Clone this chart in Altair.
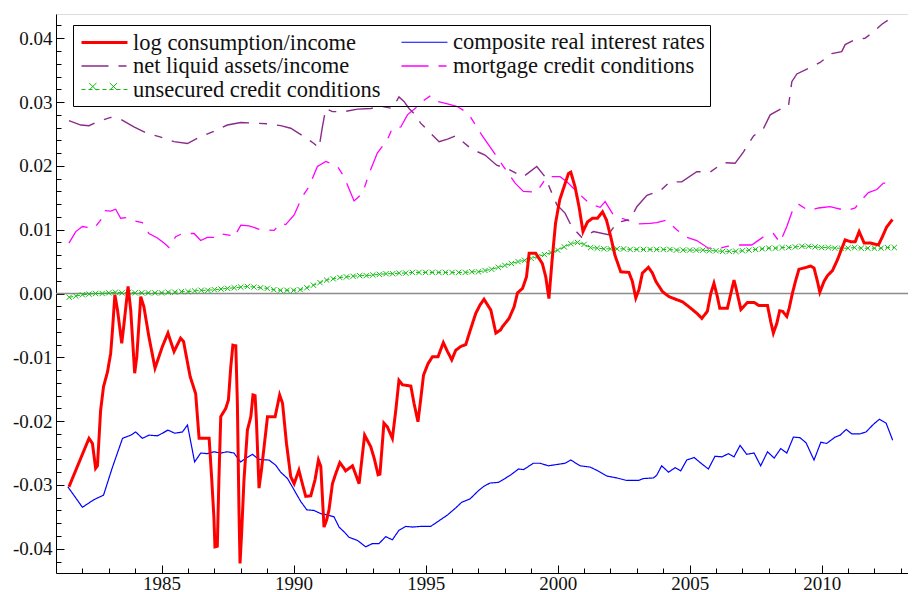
import altair as alt
import pandas as pd

# ---------------- data ----------------
# legend order: column 1 = first three, column 2 = last two
names = ["log consumption/income", "net liquid assets/income",
         "unsecured credit conditions", "composite real interest rates",
         "mortgage credit conditions"]
colors = ["#ff0000", "#8a2a8a", "#11bb11", "#0000ff", "#ff00ff"]
dashes = [[1, 0], [27, 10, 8, 10], [4, 3], [1, 0], [27, 10, 8, 10]]
widths = [3.0, 1.4, 1.0, 1.2, 1.3]

red = [(1981.49,-0.0303),(1982.25,-0.0227),(1982.38,-0.0235),(1982.50,-0.0274),(1982.57,-0.0270),
 (1982.69,-0.0183),(1982.80,-0.0146),(1982.95,-0.0123),(1983.07,-0.0094),(1983.14,-0.0057),
 (1983.23,-0.0002),(1983.33,-0.0026),(1983.49,-0.0078),(1983.55,-0.0057),(1983.73,0.0011),
 (1983.83,-0.0026),(1983.98,-0.0125),(1984.06,-0.0099),(1984.21,-0.0005),(1984.33,-0.0021),
 (1984.52,-0.0068),(1984.75,-0.0117),(1985.03,-0.0083),(1985.24,-0.0062),(1985.47,-0.0091),
 (1985.72,-0.0070),(1985.83,-0.0075),(1986.08,-0.0130),(1986.29,-0.0157),(1986.42,-0.0227),
 (1986.80,-0.0227),(1986.90,-0.0292),(1986.98,-0.0350),(1987.02,-0.0397),(1987.11,-0.0396),
 (1987.17,-0.0292),(1987.24,-0.0193),(1987.43,-0.0180),(1987.53,-0.0167),(1987.62,-0.0115),
 (1987.70,-0.0081),(1987.81,-0.0082),(1987.87,-0.0172),(1987.93,-0.0339),(1987.97,-0.0423),
 (1988.03,-0.0376),(1988.12,-0.0292),(1988.25,-0.0214),(1988.38,-0.0193),(1988.46,-0.0159),
 (1988.54,-0.0160),(1988.59,-0.0198),(1988.69,-0.0305),(1988.78,-0.0277),(1988.94,-0.0219),
 (1989.01,-0.0193),(1989.30,-0.0193),(1989.47,-0.0159),(1989.58,-0.0172),(1989.73,-0.0235),
 (1989.89,-0.0287),(1990.02,-0.0298),(1990.20,-0.0277),(1990.33,-0.0298),(1990.46,-0.0318),
 (1990.65,-0.0317),(1990.81,-0.0292),(1990.94,-0.0261),(1991.03,-0.0271),(1991.15,-0.0366),
 (1991.25,-0.0355),(1991.34,-0.0339),(1991.47,-0.0298),(1991.59,-0.0283),(1991.75,-0.0265),
 (1991.91,-0.0274),(1991.97,-0.0278),(1992.23,-0.0270),(1992.48,-0.0298),(1992.69,-0.0222),
 (1992.92,-0.0240),(1993.05,-0.0258),(1993.20,-0.0284),(1993.27,-0.0283),(1993.42,-0.0203),
 (1993.55,-0.0209),(1993.74,-0.0227),(1993.87,-0.0183),(1993.99,-0.0136),(1994.12,-0.0143),
 (1994.44,-0.0145),(1994.56,-0.0172),(1994.71,-0.0201),(1994.81,-0.0167),(1994.92,-0.0128),
 (1995.09,-0.0110),(1995.26,-0.0099),(1995.47,-0.0099),(1995.67,-0.0077),(1995.83,-0.0091),
 (1995.99,-0.0104),(1996.14,-0.0089),(1996.33,-0.0083),(1996.52,-0.0080),(1996.71,-0.0055),
 (1996.90,-0.0031),(1997.06,-0.0018),(1997.21,-0.0009),(1997.47,-0.0026),(1997.66,-0.0062),
 (1997.84,-0.0057),(1997.91,-0.0052),(1998.16,-0.0039),(1998.35,-0.0021),(1998.48,0.0001),
 (1998.67,0.0008),(1998.82,0.0026),(1998.92,0.0063),(1999.17,0.0063),(1999.42,0.0047),
 (1999.55,0.0026),(1999.67,-0.0008),(1999.80,0.0057),(1999.92,0.0110),(2000.08,0.0147),
 (2000.24,0.0167),(2000.41,0.0188),(2000.50,0.0190),(2000.66,0.0167),(2000.81,0.0136),
 (2000.96,0.0097),(2001.13,0.0112),(2001.32,0.0118),(2001.51,0.0118),(2001.70,0.0128),
 (2001.85,0.0115),(2002.01,0.0089),(2002.17,0.0060),(2002.39,0.0034),(2002.70,0.0033),
 (2002.83,0.0019),(2002.96,-0.0007),(2003.08,0.0006),(2003.21,0.0032),(2003.44,0.0041),
 (2003.59,0.0032),(2003.72,0.0019),(2003.97,0.0003),(2004.22,-0.0005),(2004.47,-0.0009),
 (2004.73,-0.0013),(2004.98,-0.0021),(2005.30,-0.0032),(2005.46,-0.0039),(2005.67,-0.0028),
 (2005.80,0.0000),(2005.92,0.0016),(2006.05,-0.0005),(2006.14,-0.0023),(2006.43,-0.0023),
 (2006.56,0.0000),(2006.68,0.0021),(2006.77,0.0006),(2006.94,-0.0025),(2007.19,-0.0014),
 (2007.44,-0.0014),(2007.63,-0.0019),(2007.95,-0.0019),(2008.07,-0.0044),(2008.17,-0.0062),
 (2008.30,-0.0047),(2008.41,-0.0027),(2008.52,-0.0028),(2008.68,-0.0036),(2008.77,-0.0023),
 (2008.89,0.0000),(2009.02,0.0021),(2009.14,0.0038),(2009.33,0.0040),(2009.59,0.0043),
 (2009.71,0.0040),(2009.84,0.0019),(2009.93,0.0002),(2010.09,0.0019),(2010.22,0.0028),
 (2010.41,0.0036),(2010.60,0.0053),(2010.72,0.0066),(2010.89,0.0084),(2011.11,0.0081),
 (2011.27,0.0081),(2011.42,0.0097),(2011.61,0.0079),(2011.86,0.0079),(2012.15,0.0076),
 (2012.30,0.0089),(2012.46,0.0104),(2012.68,0.0116)]

blue = [(1981.45,-0.0303),(1982.00,-0.0335),(1982.44,-0.0323),(1982.80,-0.0316),(1983.14,-0.0272),
 (1983.52,-0.0227),(1983.83,-0.0222),(1984.02,-0.0217),(1984.27,-0.0227),(1984.52,-0.0222),
 (1984.84,-0.0223),(1985.03,-0.0219),(1985.24,-0.0214),(1985.50,-0.0219),(1985.79,-0.0217),
 (1985.98,-0.0206),(1986.25,-0.0264),(1986.48,-0.0250),(1986.73,-0.0251),(1986.98,-0.0248),
 (1987.24,-0.0250),(1987.49,-0.0248),(1987.74,-0.0250),(1987.99,-0.0264),(1988.19,-0.0258),
 (1988.44,-0.0252),(1988.69,-0.0260),(1989.07,-0.0261),(1989.32,-0.0269),(1989.51,-0.0280),
 (1989.77,-0.0290),(1990.02,-0.0308),(1990.27,-0.0326),(1990.50,-0.0339),(1990.77,-0.0340),
 (1991.03,-0.0345),(1991.28,-0.0347),(1991.53,-0.0350),(1991.72,-0.0366),(1991.95,-0.0375),
 (1992.10,-0.0382),(1992.42,-0.0387),(1992.73,-0.0397),(1992.98,-0.0392),(1993.23,-0.0392),
 (1993.49,-0.0381),(1993.74,-0.0386),(1993.99,-0.0371),(1994.25,-0.0365),(1994.50,-0.0366),
 (1994.81,-0.0365),(1995.19,-0.0365),(1995.51,-0.0356),(1995.83,-0.0347),(1996.14,-0.0336),
 (1996.37,-0.0327),(1996.68,-0.0322),(1997.00,-0.0309),(1997.21,-0.0302),(1997.44,-0.0297),
 (1997.76,-0.0296),(1998.20,-0.0285),(1998.52,-0.0275),(1998.71,-0.0276),(1999.08,-0.0266),
 (1999.33,-0.0266),(1999.65,-0.0270),(1999.97,-0.0268),(2000.28,-0.0266),(2000.50,-0.0261),
 (2000.85,-0.0270),(2001.23,-0.0272),(2001.48,-0.0277),(2001.86,-0.0286),(2002.24,-0.0289),
 (2002.62,-0.0293),(2003.06,-0.0293),(2003.25,-0.0290),(2003.63,-0.0289),(2003.75,-0.0285),
 (2003.94,-0.0270),(2004.20,-0.0280),(2004.45,-0.0273),(2004.66,-0.0278),(2004.89,-0.0261),
 (2005.17,-0.0257),(2005.46,-0.0267),(2005.71,-0.0275),(2005.96,-0.0255),(2006.22,-0.0256),
 (2006.47,-0.0251),(2006.68,-0.0256),(2006.91,-0.0238),(2007.16,-0.0252),(2007.44,-0.0250),
 (2007.69,-0.0270),(2007.95,-0.0248),(2008.20,-0.0258),(2008.45,-0.0243),(2008.68,-0.0250),
 (2008.93,-0.0225),(2009.18,-0.0226),(2009.41,-0.0234),(2009.71,-0.0261),(2009.97,-0.0233),
 (2010.19,-0.0235),(2010.51,-0.0225),(2010.70,-0.0222),(2010.93,-0.0213),(2011.14,-0.0220),
 (2011.45,-0.0220),(2011.68,-0.0217),(2011.96,-0.0205),(2012.19,-0.0197),(2012.44,-0.0203),
 (2012.69,-0.0230)]

purple = [(1981.49,0.0271),(1981.94,0.0264),(1982.25,0.0263),(1982.57,0.0269),(1983.07,0.0276),
 (1983.45,0.0273),(1983.95,0.0261),(1984.46,0.0251),(1984.97,0.0245),(1985.47,0.0238),
 (1985.98,0.0235),(1986.48,0.0246),(1986.98,0.0254),(1987.49,0.0264),(1988.00,0.0268),
 (1988.50,0.0267),(1989.00,0.0266),(1989.51,0.0263),(1989.89,0.0259),(1990.39,0.0246),
 (1990.77,0.0235),(1990.96,0.0228),(1991.09,0.0261),(1991.22,0.0290),(1991.47,0.0285),
 (1991.91,0.0285),(1992.42,0.0289),(1992.92,0.0290),(1993.36,0.0293),(1993.74,0.0290),
 (1993.99,0.0308),(1994.18,0.0301),(1994.37,0.0290),(1994.56,0.0282),(1994.81,0.0267),
 (1995.19,0.0251),(1995.51,0.0238),(1995.83,0.0242),(1996.14,0.0247),(1996.75,0.0226),
 (1997.25,0.0217),(1997.69,0.0201),(1998.07,0.0196),(1998.70,0.0183),(1999.21,0.0199),
 (1999.52,0.0183),(1999.97,0.0139),(2000.28,0.0126),(2000.53,0.0105),(2000.91,0.0088),
 (2001.36,0.0097),(2001.92,0.0092),(2002.24,0.0111),(2002.74,0.0116),(2003.00,0.0136),
 (2003.38,0.0154),(2003.88,0.0161),(2004.26,0.0175),(2004.70,0.0175),(2005.27,0.0191),
 (2005.77,0.0190),(2006.28,0.0205),(2006.72,0.0204),(2007.04,0.0222),(2007.42,0.0247),
 (2007.80,0.0259),(2008.05,0.0280),(2008.49,0.0290),(2008.74,0.0293),(2008.87,0.0332),
 (2009.06,0.0344),(2009.50,0.0353),(2009.94,0.0362),(2010.38,0.0376),(2010.76,0.0379),
 (2010.89,0.0390),(2011.27,0.0398),(2011.64,0.0400),(2011.96,0.0410),(2012.28,0.0422),
 (2012.50,0.0428)]

magenta = [(1981.49,0.0079),(1981.75,0.0097),(1982.00,0.0105),(1982.44,0.0102),(1982.69,0.0115),
 (1982.82,0.0130),(1983.07,0.0129),(1983.26,0.0132),(1983.45,0.0118),(1983.70,0.0119),
 (1983.95,0.0114),(1984.27,0.0111),(1984.52,0.0094),(1984.84,0.0087),(1985.09,0.0079),
 (1985.28,0.0072),(1985.53,0.0089),(1985.79,0.0094),(1986.23,0.0094),(1986.48,0.0083),
 (1986.73,0.0088),(1986.98,0.0088),(1987.17,0.0094),(1987.62,0.0091),(1987.74,0.0088),
 (1988.00,0.0107),(1988.31,0.0106),(1988.75,0.0100),(1989.26,0.0099),(1989.51,0.0110),
 (1989.70,0.0108),(1990.02,0.0123),(1990.33,0.0152),(1990.58,0.0167),(1990.90,0.0199),
 (1991.22,0.0207),(1991.66,0.0199),(1991.91,0.0183),(1992.29,0.0145),(1992.61,0.0157),
 (1992.86,0.0188),(1993.17,0.0220),(1993.55,0.0241),(1993.74,0.0259),(1994.06,0.0261),
 (1994.31,0.0280),(1994.69,0.0293),(1994.94,0.0303),(1995.19,0.0310),(1995.45,0.0301),
 (1995.83,0.0297),(1996.20,0.0293),(1996.62,0.0282),(1997.13,0.0248),(1997.57,0.0222),
 (1997.95,0.0199),(1998.39,0.0173),(1998.70,0.0160),(1999.21,0.0159),(1999.59,0.0183),
 (2000.09,0.0183),(2000.35,0.0175),(2000.79,0.0157),(2001.23,0.0140),(2001.61,0.0135),
 (2001.80,0.0144),(2002.11,0.0123),(2002.55,0.0116),(2003.06,0.0109),(2003.50,0.0110),
 (2003.75,0.0111),(2004.13,0.0115),(2004.51,0.0100),(2004.89,0.0088),(2005.27,0.0083),
 (2005.71,0.0071),(2006.15,0.0071),(2006.41,0.0074),(2006.91,0.0076),(2007.35,0.0076),
 (2007.80,0.0089),(2008.17,0.0094),(2008.42,0.0080),(2008.68,0.0105),(2008.93,0.0134),
 (2009.12,0.0140),(2009.50,0.0130),(2009.88,0.0134),(2010.32,0.0136),(2010.51,0.0134),
 (2010.95,0.0130),(2011.27,0.0134),(2011.52,0.0147),(2011.77,0.0158),(2012.09,0.0163),
 (2012.34,0.0173),(2012.53,0.0173),(2012.66,0.0168)]

# unsecured credit conditions, quarterly from 1981Q3
green_start = 1981.5
green_vals = [
 -0.0006, -0.0004,
 -0.0002, -0.0001, 0.0000, 0.0000,
 0.0001, 0.0002, 0.0001, 0.0002,
 0.0001, 0.0001, 0.0001, 0.0001,
 0.0001, 0.0002, 0.0002, 0.0003,
 0.0003, 0.0004, 0.0005, 0.0005,
 0.0006, 0.0007, 0.0008, 0.0009,
 0.0010, 0.0011, 0.0010, 0.0009,
 0.0008, 0.0006, 0.0005, 0.0005,
 0.0005, 0.0006, 0.0009, 0.0013,
 0.0017, 0.0021, 0.0023, 0.0025,
 0.0026, 0.0027, 0.0028, 0.0028,
 0.0029, 0.0030, 0.0031, 0.0031,
 0.0032, 0.0032, 0.0033, 0.0033,
 0.0033, 0.0033, 0.0033, 0.0033,
 0.0033, 0.0033, 0.0033, 0.0034,
 0.0034, 0.0036, 0.0038, 0.0041,
 0.0044, 0.0047, 0.0050, 0.0052,
 0.0055, 0.0058, 0.0061, 0.0064,
 0.0068, 0.0073, 0.0078, 0.0080,
 0.0077, 0.0072, 0.0071, 0.0070,
 0.0070, 0.0070, 0.0070, 0.0069,
 0.0069, 0.0069, 0.0069, 0.0069,
 0.0069, 0.0069, 0.0068, 0.0068,
 0.0068, 0.0068, 0.0068, 0.0067,
 0.0067, 0.0066, 0.0066, 0.0066,
 0.0067, 0.0068, 0.0069, 0.0070,
 0.0071, 0.0071, 0.0072, 0.0072,
 0.0073, 0.0074, 0.0074, 0.0073,
 0.0072, 0.0072, 0.0071, 0.0071,
 0.0071, 0.0072, 0.0071, 0.0071,
 0.0071, 0.0071, 0.0072, 0.0072]

y_major = [-0.04, -0.03, -0.02, -0.01, 0.0, 0.01, 0.02, 0.03, 0.04]
y_minor = [round(-0.042 + 0.002 * i, 3) for i in range(43)]
x_major = [1985, 1990, 1995, 2000, 2005, 2010]
x_minor = list(range(1982, 2014))

# ---------------- layout ----------------
W, H = 852, 559
FONT = "Liberation Serif, Times New Roman, DejaVu Serif, serif"
GREEN = colors[2]
x_scale = alt.Scale(domain=[1981.0, 2013.27], nice=False, zero=False)
y_scale = alt.Scale(domain=[-0.0438, 0.0438], nice=False, zero=False)


def frame(pairs, name):
    return pd.DataFrame({"year": [p[0] for p in pairs],
                         "value": [p[1] for p in pairs],
                         "series": name})


df_red = frame(red, "log consumption/income")
df_blue = frame(blue, "composite real interest rates")
df_purple = frame(purple, "net liquid assets/income")
df_mag = frame(magenta, "mortgage credit conditions")
df_green = pd.DataFrame({"year": [green_start + 0.25 * i for i in range(len(green_vals))],
                         "value": green_vals, "series": "unsecured credit conditions"})

LINE_PATH = "M-1,0H3.18"
TWO_X_PATH = ("M-0.22,-0.32L0.45,0.32M-0.22,0.32L0.45,-0.32"
              "M1.66,-0.32L2.33,0.32M1.66,0.32L2.33,-0.32")
X_PATH = "M-1,-1L1,1M1,-1L-1,1"

LEG_X, LEG_Y, LEG_PAD, ROW_H = 17, 11, 5, 22.5
legend_kw = dict(
    orient="none", legendX=LEG_X, legendY=LEG_Y, columns=2, title=None,
    strokeColor="black", padding=LEG_PAD, rowPadding=0, columnPadding=17,
    symbolType=LINE_PATH, symbolSize=484, symbolOffset=2, labelOffset=28,
    labelFont=FONT, labelFontSize=22.5, labelColor="#111111", labelLimit=400,
)
color = alt.Color("series:N", scale=alt.Scale(domain=names, range=colors),
                  legend=alt.Legend(**legend_kw))
sdash = alt.StrokeDash("series:N", scale=alt.Scale(domain=names, range=dashes),
                       legend=alt.Legend(**legend_kw))
swidth = alt.StrokeWidth("series:N", scale=alt.Scale(type="ordinal", domain=names, range=widths),
                         legend=alt.Legend(**legend_kw))

# axes
ax_x_labels = alt.Axis(orient="bottom", values=x_major, format="d", ticks=False, tickSize=0,
                       domain=True, domainColor="black", domainWidth=1, labelFont=FONT,
                       labelFontSize=19, labelColor="#111111", labelPadding=1, grid=False,
                       title=None, labelOverlap=False)
ax_x_major = alt.Axis(orient="top", offset=-H, values=x_major, labels=False, domain=False,
                      ticks=True, tickSize=8, tickColor="black", tickWidth=1, grid=False, title=None)
ax_x_minor = alt.Axis(orient="top", offset=-H, values=x_minor, labels=False, domain=False,
                      ticks=True, tickSize=5, tickColor="black", tickWidth=1, grid=False, title=None)
ax_y_labels = alt.Axis(orient="left", values=y_major, ticks=False, tickSize=0, domain=True,
                       domainColor="black", domainWidth=1, labelFont=FONT, labelFontSize=19,
                       labelColor="#111111", labelPadding=4, grid=False, title=None,
                       labelOverlap=False,
                       labelExpr="(datum.value < 0 ? '-' : '') + format(abs(datum.value), '.2f')")
ax_y_major = alt.Axis(orient="right", offset=-W, values=y_major, labels=False, domain=False,
                      ticks=True, tickSize=8, tickColor="black", tickWidth=1, grid=False, title=None)
ax_y_minor = alt.Axis(orient="right", offset=-W, values=y_minor, labels=False, domain=False,
                      ticks=True, tickSize=5, tickColor="black", tickWidth=1, grid=False, title=None)


def line(df, xa=None, ya=None):
    return alt.Chart(df).mark_line(interpolate="linear").encode(
        x=alt.X("year:Q", scale=x_scale, axis=xa),
        y=alt.Y("value:Q", scale=y_scale, axis=ya),
        color=color, strokeDash=sdash, strokeWidth=swidth,
        order="year:Q",
    )


zero = alt.Chart(pd.DataFrame({"z": [0]})).mark_rule(color="#8c8c8c", strokeWidth=1.5).encode(
    y=alt.Y("z:Q", scale=y_scale, axis=None))

mag_layer = line(df_mag, ax_x_labels, ax_y_labels)
pur_layer = line(df_purple, ax_x_major, ax_y_major)
green_line = line(df_green, ax_x_minor, ax_y_minor)

# row 3 / column 1 of the main legend holds the green entry; a second legend adds its x markers
green_pts = alt.Chart(df_green).mark_point(shape=X_PATH, filled=False, size=28, strokeWidth=1,
                                           color=GREEN).encode(
    x=alt.X("year:Q", scale=x_scale, axis=None),
    y=alt.Y("value:Q", scale=y_scale, axis=None),
    opacity=alt.Opacity("series:N",
                        scale=alt.Scale(type="ordinal", domain=["unsecured credit conditions"], range=[1]),
                        legend=alt.Legend(orient="none", legendX=LEG_X + LEG_PAD,
                                          legendY=LEG_Y + LEG_PAD + 2 * ROW_H, title=None, padding=0,
                                          symbolType=TWO_X_PATH, symbolSize=484, symbolOffset=2,
                                          symbolStrokeColor=GREEN, symbolFillColor="transparent",
                                          symbolStrokeWidth=1, labelExpr="''", labelOpacity=0,
                                          labelFontSize=1, strokeColor="transparent")),
)
blue_layer = line(df_blue)
red_layer = line(df_red)

chart = alt.layer(zero, mag_layer, pur_layer, green_line, green_pts, blue_layer, red_layer).resolve_axis(
    x="independent", y="independent"
).properties(
    width=W, height=H,
    autosize=alt.AutoSizeParams(type="none"),
    padding={"left": 48, "top": 6, "right": 0, "bottom": 19},
    background="white",
).configure_view(stroke=None).configure(font="Liberation Serif")

chart.save("out.html", embed_options={"renderer": "svg", "actions": False})
